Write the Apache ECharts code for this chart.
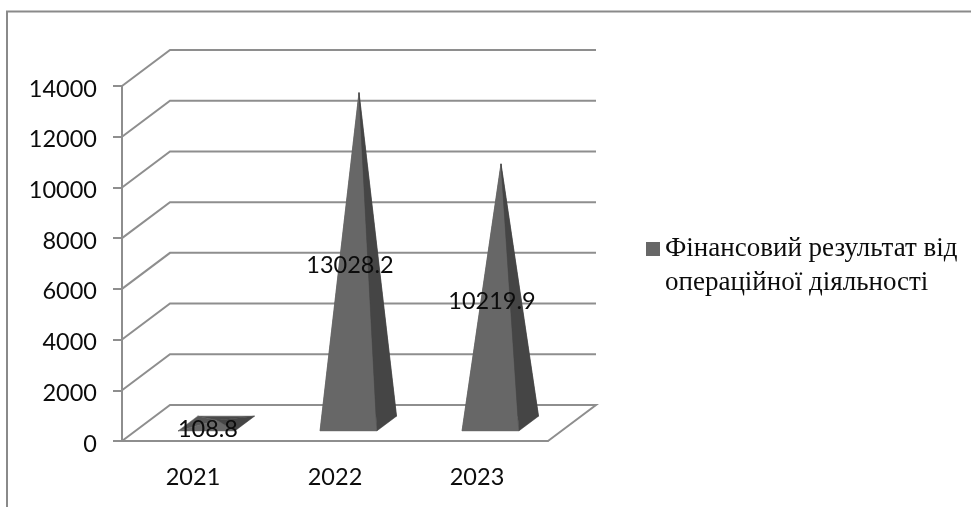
<!DOCTYPE html>
<html>
<head>
<meta charset="utf-8">
<style>html,body{margin:0;padding:0;background:#fff}#chart{width:971px;height:507px}</style>
<script src="https://cdn.jsdelivr.net/npm/echarts@6/dist/echarts.min.js"></script>
</head>
<body>
<div id="chart"></div>
<script>
// Operating result by year, drawn as pyramids on a pseudo-3D floor.
const categories = ['2021', '2022', '2023'];
const resultValues = [108.8, 13028.2, 10219.9];
const tickValues = [0, 2000, 4000, 6000, 8000, 10000, 12000, 14000];
const seriesName = 'Фінансовий результат від\nопераційної діяльності';

// Oblique projection: full depth of the chart box in pixels.
const DEPTH_X = 48, DEPTH_Y = -36;
const BASE_NEAR = 0.28, BASE_FAR = 0.69, APEX_DEPTH = 0.5;
const project = (p, f) => [p[0] + DEPTH_X * f, p[1] + DEPTH_Y * f];
const GRID_COLOR = '#8e8e8e';
const TEXT_COLOR = '#0c0c0c';

function face(points, fill) {
  return { type: 'polygon', shape: { points }, style: { fill, stroke: fill, lineWidth: 0.5 } };
}

function renderPyramid(params, api) {
  const idx = api.value(0), value = api.value(1);
  const foot = api.coord([idx, 0]), top = api.coord([idx, value]), half = api.size([1, 0])[0] * 0.2;
  const fl = project([foot[0] - half, foot[1]], BASE_NEAR);
  const fr = project([foot[0] + half, foot[1]], BASE_NEAR);
  const bl = project([foot[0] - half, foot[1]], BASE_FAR);
  const br = project([foot[0] + half, foot[1]], BASE_FAR);
  const apex = project(top, APEX_DEPTH);
  const mid = project(api.coord([idx, value / 2]), BASE_NEAR);
  return {
    type: 'group',
    children: [
      face([bl, br, apex], '#4a4a4a'),
      face([fl, bl, apex], '#565656'),
      face([fl, fr, apex], '#676767'),
      face([fr, br, apex], '#454545'),
      {
        type: 'text', z2: 10,
        style: {
          x: mid[0] + 1.5, y: mid[1], text: String(value),
          font: '23.5px Lato', fill: TEXT_COLOR, align: 'center', verticalAlign: 'middle'
        }
      }
    ]
  };
}

function renderGridline(params, api) {
  const cs = params.coordSys, value = api.value(0), y = api.coord([0, value])[1];
  const left = [cs.x, y], right = [cs.x + cs.width, y];
  const points = [left, project(left, 1), project(right, 1)];
  if (value === 0) points.push(right);
  return {
    type: 'polyline', shape: { points },
    style: { fill: 'none', stroke: GRID_COLOR, lineWidth: 2 }
  };
}

const chart = echarts.init(document.getElementById('chart'), null, { renderer: 'canvas' });
chart.setOption({
  animation: false,
  backgroundColor: '#fff',
  grid: { left: 122, top: 86, width: 426, height: 355 },
  legend: {
    left: 646, top: 232, orient: 'vertical', selectedMode: false, padding: 0,
    data: [{ name: seriesName, icon: 'path://M0 0H14V14H0Z M0 48L0 48' }],
    itemWidth: 14, itemHeight: 48, itemGap: 0,
    textStyle: { fontFamily: 'Liberation Serif', fontSize: 27, color: TEXT_COLOR, lineHeight: 34 }
  },
  xAxis: {
    type: 'category', data: categories,
    axisLine: { lineStyle: { color: GRID_COLOR, width: 2 } },
    axisTick: { alignWithLabel: false, length: 9, lineStyle: { color: GRID_COLOR, width: 2 } },
    axisLabel: { fontFamily: 'Lato', fontSize: 23.5, color: TEXT_COLOR, margin: 24 }
  },
  yAxis: {
    type: 'value', min: 0, max: 14000, interval: 2000,
    axisLine: { show: true, lineStyle: { color: GRID_COLOR, width: 2 } },
    axisTick: { show: true, length: 9, lineStyle: { color: GRID_COLOR, width: 2 } },
    axisLabel: {
      fontFamily: 'Lato', fontSize: 23.5, color: TEXT_COLOR, margin: 25,
      verticalAlign: 'top', lineHeight: 6, formatter: v => String(v)
    },
    splitLine: { show: false }
  },
  graphic: [{
    // Outer frame: only its top and left edges fall inside the canvas.
    type: 'polyline', silent: true, z: 0,
    shape: { points: [[7, 507], [7, 11.5], [971, 11.5]] },
    style: { fill: 'none', stroke: '#8a8a8a', lineWidth: 2 }
  }],
  series: [
    {
      type: 'custom', name: 'grid', silent: true, z: 1,
      coordinateSystem: 'cartesian2d', renderItem: renderGridline,
      encode: { y: 0 }, data: tickValues.map(v => [v])
    },
    {
      type: 'custom', name: seriesName, z: 3,
      coordinateSystem: 'cartesian2d', renderItem: renderPyramid,
      itemStyle: { color: '#676767' },
      encode: { x: 0, y: 1 },
      data: resultValues.map((v, i) => [i, v])
    }
  ]
});
</script>
</body>
</html>
